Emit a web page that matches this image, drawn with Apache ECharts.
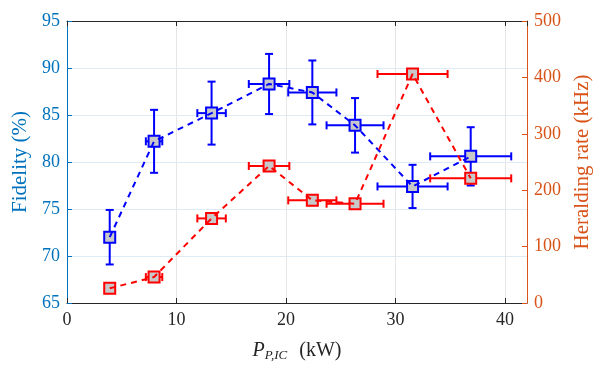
<!DOCTYPE html>
<html>
<head>
<meta charset="utf-8">
<script src="https://cdn.jsdelivr.net/npm/echarts@6/dist/echarts.min.js"></script>
<style>
  html, body { margin: 0; padding: 0; background: #fff; }
  #chart { width: 606px; height: 374px; }
</style>
</head>
<body>
<div id="chart"></div>
<script>
// pump power (kW) and its uncertainty
const power = [3.9, 7.95, 13.2, 18.45, 22.4, 26.3, 31.55, 36.86]
const powerErr = [0, 0.75, 1.3, 1.85, 2.2, 2.6, 3.2, 3.7]

// fidelity (%)
const fidelity = [72.0, 82.2, 85.2, 88.3, 87.4, 83.9, 77.4, 80.6]
const fidelityErr = [2.9, 3.35, 3.35, 3.2, 3.4, 2.9, 2.3, 3.1]

// heralding rate (kHz)
const rate = [26, 46, 150, 243, 182, 176, 406, 221]
const rateErr = [0, 0, 0, 0, 0, 0, 0, 0]

const xTicks = [0, 10, 20, 30, 40]
const fidTicks = [65, 70, 75, 80, 85, 90, 95]
const rateTicks = [0, 100, 200, 300, 400, 500]

const FONT = '"Liberation Serif", "DejaVu Serif", serif'
const AX_DARK = '#262626'
const AX_BLUE = '#0072BD'
const AX_ORANGE = '#D95319'

const chart = echarts.init(document.getElementById('chart'))

// error bar rows: [x, y, xerr, yerr]
const rows = (ys, yErr) => power.map((p, i) => [p, ys[i], powerErr[i], yErr[i]])

const errRender = (color) => (params, api) => {
  const x = api.value(0), y = api.value(1)
  const xe = api.value(2), ye = api.value(3)
  const cap = 4
  const style = { stroke: color, lineWidth: 2 }
  const kids = []
  if (ye > 0) {
    const t = api.coord([x, y + ye])
    const b = api.coord([x, y - ye])
    kids.push({ type: 'line', shape: { x1: t[0], y1: t[1], x2: b[0], y2: b[1] }, style })
    kids.push({ type: 'line', shape: { x1: t[0] - cap, y1: t[1], x2: t[0] + cap, y2: t[1] }, style })
    kids.push({ type: 'line', shape: { x1: b[0] - cap, y1: b[1], x2: b[0] + cap, y2: b[1] }, style })
  }
  if (xe > 0) {
    const l = api.coord([x - xe, y])
    const r = api.coord([x + xe, y])
    kids.push({ type: 'line', shape: { x1: l[0], y1: l[1], x2: r[0], y2: r[1] }, style })
    kids.push({ type: 'line', shape: { x1: l[0], y1: l[1] - cap, x2: l[0], y2: l[1] + cap }, style })
    kids.push({ type: 'line', shape: { x1: r[0], y1: r[1] - cap, x2: r[0], y2: r[1] + cap }, style })
  }
  return { type: 'group', children: kids }
}

const pts = (ys) => power.map((p, i) => [p, ys[i]])

const option = {
  animation: false,
  backgroundColor: '#fff',
  textStyle: { fontFamily: FONT },
  grid: { left: 67, right: 79, top: 21, bottom: 71, containLabel: false, outerBoundsMode: 'none' },
  xAxis: [
    {
      type: 'value',
      min: 0,
      max: 42,
      interval: 10,
      position: 'bottom',
      name: '{i|P}{s|P,IC} (kW)',
      nameLocation: 'middle',
      nameGap: 36,
      nameTextStyle: {
        color: AX_DARK,
        fontSize: 20,
        fontFamily: FONT,
        rich: {
          i: { fontStyle: 'italic', fontSize: 20, fontFamily: FONT, color: AX_DARK },
          s: { fontStyle: 'italic', fontSize: 13, fontFamily: FONT, color: AX_DARK, padding: [10, 7, 0, 0] }
        }
      },
      axisLine: { onZero: false, lineStyle: { color: AX_DARK, width: 1 } },
      axisTick: { inside: true, length: 5, lineStyle: { color: AX_DARK } },
      axisLabel: {
        color: AX_DARK, fontSize: 18, fontFamily: FONT, margin: 8,
        showMaxLabel: false,
        formatter: v => xTicks.includes(v) ? String(v) : ''
      },
      splitLine: { show: true, lineStyle: { color: '#e6e6e6', width: 1 } }
    },
    {
      type: 'value',
      min: 0,
      max: 42,
      interval: 10,
      position: 'top',
      axisLine: { show: true, onZero: false, lineStyle: { color: AX_DARK, width: 1 } },
      axisTick: { inside: true, length: 5, lineStyle: { color: AX_DARK } },
      axisLabel: { show: false },
      splitLine: { show: false }
    }
  ],
  yAxis: [
    {
      type: 'value',
      min: 65,
      max: 95,
      interval: 5,
      position: 'left',
      name: 'Fidelity (%)',
      nameLocation: 'middle',
      nameGap: 26,
      nameRotate: 90,
      nameTextStyle: { color: AX_BLUE, fontSize: 21, fontFamily: FONT },
      axisLine: { show: true, onZero: false, lineStyle: { color: AX_BLUE, width: 1 } },
      axisTick: { show: true, inside: true, length: 5, lineStyle: { color: AX_BLUE } },
      axisLabel: {
        color: AX_BLUE, fontSize: 18, fontFamily: FONT, margin: 7,
        formatter: v => fidTicks.includes(v) ? String(v) : ''
      },
      splitLine: { show: true, lineStyle: { color: '#dcebf6', width: 1 } }
    },
    {
      type: 'value',
      min: 0,
      max: 500,
      interval: 100,
      position: 'right',
      name: 'Heralding rate (kHz)',
      nameLocation: 'middle',
      nameGap: 40,
      nameRotate: 90,
      nameTextStyle: { color: AX_ORANGE, fontSize: 21, fontFamily: FONT },
      axisLine: { show: true, onZero: false, lineStyle: { color: AX_ORANGE, width: 1 } },
      axisTick: { show: true, inside: true, length: 5, lineStyle: { color: AX_ORANGE } },
      axisLabel: {
        color: AX_ORANGE, fontSize: 18, fontFamily: FONT, margin: 7,
        formatter: v => rateTicks.includes(v) ? String(v) : ''
      },
      splitLine: { show: false }
    }
  ],
  series: [
    {
      name: 'fidelity-line',
      type: 'line',
      data: pts(fidelity),
      showSymbol: false,
      lineStyle: { color: '#0000ff', width: 2, type: [6, 5] }
    },
    {
      name: 'fidelity-err',
      type: 'custom',
      data: rows(fidelity, fidelityErr),
      renderItem: errRender('#0000ff'),
      encode: { x: 0, y: 1 },
      clip: false
    },
    {
      name: 'fidelity',
      type: 'scatter',
      data: pts(fidelity),
      symbol: 'rect',
      symbolSize: 11,
      itemStyle: { color: '#c8c8c8', borderColor: '#0000ff', borderWidth: 2, opacity: 1 }
    },
    {
      name: 'rate-line',
      type: 'line',
      yAxisIndex: 1,
      data: pts(rate),
      showSymbol: false,
      lineStyle: { color: '#ff0000', width: 2, type: [6, 5] }
    },
    {
      name: 'rate-err',
      type: 'custom',
      yAxisIndex: 1,
      data: rows(rate, rateErr),
      renderItem: errRender('#ff0000'),
      encode: { x: 0, y: 1 },
      clip: false
    },
    {
      name: 'rate',
      type: 'scatter',
      yAxisIndex: 1,
      data: pts(rate),
      symbol: 'rect',
      symbolSize: 11,
      itemStyle: { color: '#c8c8c8', borderColor: '#ff0000', borderWidth: 2, opacity: 1 }
    }
  ]
}

chart.setOption(option)
</script>
</body>
</html>
